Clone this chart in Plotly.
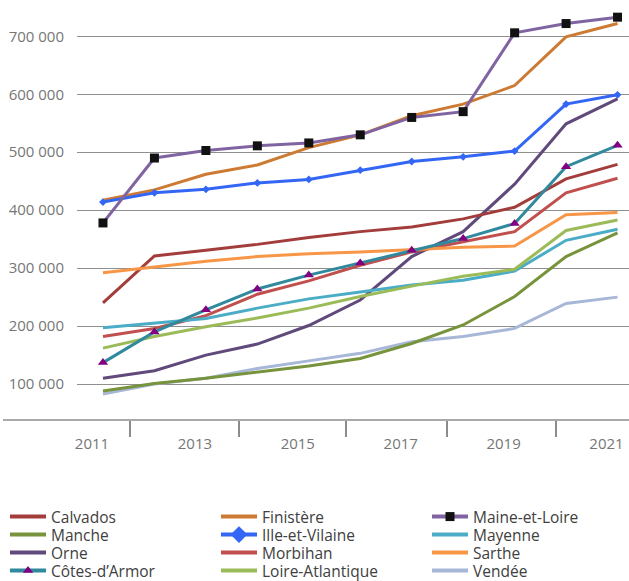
import plotly.graph_objects as go

years = [2011, 2012, 2013, 2014, 2015, 2016, 2017, 2018, 2019, 2020, 2021]
tick_years = [2011, 2013, 2015, 2017, 2019, 2021]
y_ticks = [100000, 200000, 300000, 400000, 500000, 600000, 700000]

calvados = [240000, 321000, 331000, 341000, 353000, 363000, 371000, 385000, 405000, 454000, 479000]
finistere = [417000, 435000, 462000, 478000, 508000, 530000, 563000, 583000, 615000, 699000, 722000]
maine_et_loire = [378000, 490000, 503000, 511000, 516000, 530000, 560000, 570000, 706000, 722000, 733000]
manche = [88000, 101000, 110000, 121000, 131000, 144000, 170000, 202000, 251000, 320000, 361000]
ille_et_vilaine = [414000, 430000, 436000, 447000, 453000, 469000, 484000, 492000, 502000, 583000, 599000]
mayenne = [197000, 205000, 213000, 231000, 247000, 259000, 271000, 279000, 295000, 348000, 367000]
orne = [110000, 123000, 150000, 169000, 201000, 245000, 320000, 363000, 445000, 549000, 592000]
morbihan = [182000, 196000, 218000, 255000, 278000, 305000, 328000, 346000, 363000, 430000, 455000]
sarthe = [292000, 302000, 312000, 320000, 325000, 328000, 332000, 336000, 338000, 392000, 396000]
cotes_darmor = [137000, 190000, 228000, 264000, 288000, 309000, 331000, 351000, 377000, 475000, 512000]
loire_atlantique = [162000, 182000, 199000, 214000, 231000, 251000, 269000, 286000, 298000, 365000, 383000]
vendee = [83000, 100000, 110000, 127000, 140000, 153000, 173000, 182000, 196000, 239000, 250000]

series = [
    ("Calvados", calvados, "#A33D3B", None, None, None),
    ("Finistère", finistere, "#CD7A33", None, None, None),
    ("Maine-et-Loire", maine_et_loire, "#8064A2", "square", "#111111", 9),
    ("Manche", manche, "#77933C", None, None, None),
    ("Ille-et-Vilaine", ille_et_vilaine, "#3366F5", "diamond", "#3366F5", 6),
    ("Mayenne", mayenne, "#4BACC6", None, None, None),
    ("Orne", orne, "#604A7B", None, None, None),
    ("Morbihan", morbihan, "#C0504D", None, None, None),
    ("Sarthe", sarthe, "#F79646", None, None, None),
    ("Côtes-d’Armor", cotes_darmor, "#31899E", "triangle-up", "#800080", 9),
    ("Loire-Atlantique", loire_atlantique, "#9BBB59", None, None, None),
    ("Vendée", vendee, "#A7B7D8", None, None, None),
]

# figure geometry (pixels)
W, H = 629, 581
ML, MR, MT, MB = 77, 0, 5, 161
PW, PH = W - ML - MR, H - MT - MB

fig = go.Figure()

draw_order = [11, 3, 6, 1, 0, 7, 5, 10, 8, 9, 4, 2]
for i in draw_order:
    name, vals, color, sym, mcol, msize = series[i]
    mode = "lines+markers" if sym else "lines"
    fig.add_trace(go.Scatter(
        x=years, y=vals, name=name, mode=mode,
        line=dict(color=color, width=3),
        marker=dict(symbol=sym or "circle", color=mcol or color, size=msize or 6),
        showlegend=False,
    ))

# helper trace so the tick-mark axis exists
fig.add_trace(go.Scatter(x=[None], y=[None], xaxis="x2", yaxis="y",
                         showlegend=False, hoverinfo="skip"))

legend_names = ["legend", "legend2", "legend3", "legend4"]
for i, (name, vals, color, sym, mcol, msize) in enumerate(series):
    lg = legend_names[i // 3]
    mode = "lines+markers" if sym else "lines"
    lsize = msize
    if name == "Ille-et-Vilaine":
        lsize = 13
    fig.add_trace(go.Scatter(
        x=[None], y=[None], name=name, mode=mode,
        line=dict(color=color, width=4),
        marker=dict(symbol=sym or "circle", color=mcol or color, size=lsize or 6),
        legend=lg, showlegend=True,
    ))

font_family = "Open Sans"
row_y = [517, 535, 553, 571]
legend_common = dict(
    orientation="h", xref="paper", yref="paper",
    x=(5 - ML) / PW, xanchor="left", yanchor="middle",
    itemwidth=36,
    entrywidth=160, entrywidthmode="pixels",
    bgcolor="rgba(0,0,0,0)", borderwidth=0,
    font=dict(family=font_family, size=15.5, color="#404040"),
    itemclick=False, itemdoubleclick=False,
)
layout_legends = {}
for k, lg in enumerate(legend_names):
    layout_legends[lg] = dict(legend_common, y=(MT + PH - row_y[k]) / PH)

x_range = [2010.495, 2021.223]
fig.update_layout(
    width=W, height=H,
    margin=dict(l=ML, r=MR, t=MT, b=MB, autoexpand=False),
    paper_bgcolor="white", plot_bgcolor="white",
    separators=", ",
    font=dict(family=font_family, color="#767676"),
    xaxis=dict(
        range=x_range, automargin=False,
        tickvals=tick_years, ticktext=[str(y) for y in tick_years],
        ticks="", showgrid=False, zeroline=False, showline=False,
        tickfont=dict(size=15, color="#767676"),
        ticklabelshift=-11, ticklabelstandoff=13,
    ),
    xaxis2=dict(
        range=x_range, automargin=False, overlaying="x", anchor="y", side="bottom",
        tickvals=[2011.52, 2013.64, 2015.72, 2017.68, 2019.8],
        ticks="outside", ticklen=16, tickcolor="#8c8c8c", tickwidth=1.5,
        showticklabels=False, showgrid=False, zeroline=False, showline=False,
    ),
    yaxis=dict(
        range=[38000, 754000], automargin=False,
        tickvals=y_ticks, tickformat=",d",
        showgrid=True, gridcolor="#8f8f8f", gridwidth=1.3,
        zeroline=False, showline=False, ticks="",
        tickfont=dict(size=15, color="#767676"),
        ticklabelstandoff=12,
    ),
    shapes=[dict(type="line", xref="paper", yref="paper",
                 x0=(3 - ML) / PW, x1=1, y0=0, y1=0,
                 line=dict(color="#8c8c8c", width=1.5))],
    **layout_legends,
)

fig.write_html("out.html", config={"displayModeBar": False},
               post_script="document.body.style.margin='0';")
